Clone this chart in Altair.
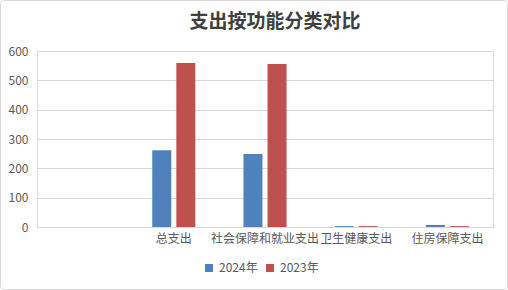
import altair as alt
import pandas as pd

title_text = "支出按功能分类对比"
categories = [" ", "总支出", "社会保障和就业支出", "卫生健康支出", "住房保障支出"]
data_categories = ["总支出", "社会保障和就业支出", "卫生健康支出", "住房保障支出"]
values_2024 = [262, 249, 3, 7]
values_2023 = [559, 556, 3, 3]
series = ["2024年", "2023年"]
colors = ["#4F81BD", "#C0504D"]

rows = []
for c, v in zip(data_categories, values_2024):
    rows.append({"category": c, "series": series[0], "value": v})
for c, v in zip(data_categories, values_2023):
    rows.append({"category": c, "series": series[1], "value": v})
df = pd.DataFrame(rows)

FONT = "Noto Sans CJK SC"

bars = alt.Chart(df).mark_bar().encode(
    x=alt.X("category:N", sort=categories,
            scale=alt.Scale(domain=categories, paddingInner=0, paddingOuter=0),
            axis=alt.Axis(title=None, labelAngle=0, ticks=False, domain=True,
                          domainColor="#d9d9d9", labelColor="#595959",
                          labelFontSize=12, labelFont=FONT, labelPadding=6,
                          grid=False)),
    xOffset=alt.XOffset("series:N", sort=series,
                        scale=alt.Scale(domain=series, paddingInner=0.21, paddingOuter=1.0)),
    y=alt.Y("value:Q", scale=alt.Scale(domain=[0, 600]),
            axis=alt.Axis(title=None, values=[0, 100, 200, 300, 400, 500, 600],
                          domain=False, ticks=False, gridColor="#d9d9d9",
                          labelColor="#595959", labelFontSize=12, labelFont=FONT,
                          labelPadding=9)),
    color=alt.Color("series:N", sort=series,
                    scale=alt.Scale(domain=series, range=colors),
                    legend=alt.Legend(title=None, orient="none", direction="horizontal",
                                      legendX=166, legendY=211,
                                      symbolType="square", symbolSize=64,
                                      symbolStrokeWidth=0,
                                      labelFont=FONT, labelFontSize=12,
                                      labelColor="#595959", columnPadding=6,
                                      labelOffset=4)),
)

border = alt.Chart(pd.DataFrame({"a": [0]})).mark_rect(
    fill=None, stroke="#d9d9d9", strokeWidth=1, cornerRadius=3
).encode(x=alt.value(-36.5), x2=alt.value(470.5), y=alt.value(-50.5), y2=alt.value(238.5))

title = alt.Chart(pd.DataFrame({"t": [title_text]})).mark_text(
    font=FONT, fontSize=19, fontWeight="bold", color="#404040",
    align="center", baseline="middle"
).encode(text="t:N", x=alt.value(238), y=alt.value(-29.5))

chart = alt.layer(bars, border, title).properties(
    width=456, height=176,
    autosize=alt.AutoSizeParams(type="none"),
    padding={"left": 37, "top": 51, "right": 15, "bottom": 63},
).configure_view(stroke=None).configure(background="white")

chart.save("out.html", embed_options={"renderer": "svg", "actions": False})
